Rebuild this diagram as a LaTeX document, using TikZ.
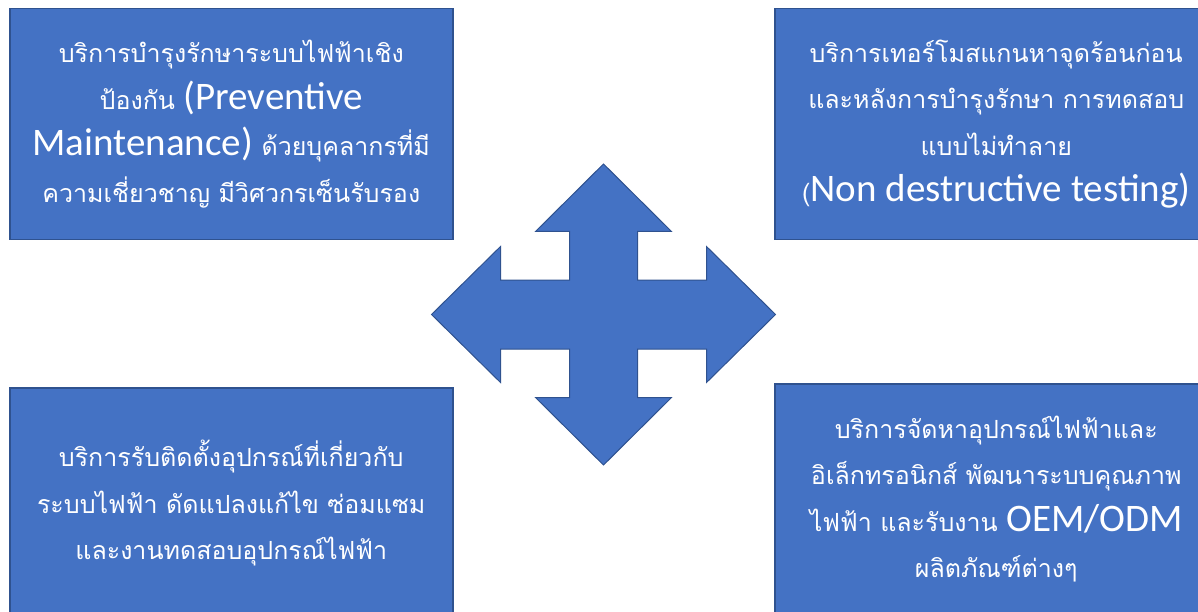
\documentclass[tikz,border=0pt]{standalone}
\usepackage{fontspec}
\setmainfont{Carlito}
\newfontfamily\thaifont[Script=Thai]{Loma}
\newfontfamily\latinfont{Carlito}
\definecolor{boxblue}{HTML}{4472C4}
\definecolor{boxline}{HTML}{2F528F}
\newcommand{\eng}[1]{{\latinfont\fontsize{39}{46.5}\selectfont #1}}

\begin{document}
\begin{tikzpicture}[x=1pt,y=-1pt,
  service/.style={draw=boxline,line width=1.5pt,fill=boxblue,text=white,
    align=center,anchor=north west,minimum width=443pt,minimum height=231pt,
    inner sep=0pt,font=\thaifont\fontsize{25}{46.5}\selectfont},
  crossarrow/.style={draw=boxline,line width=1pt,fill=boxblue}]

  \useasboundingbox (0,0) rectangle (1198,612);
  \clip (0,0) rectangle (1198,612);

  % Services
  \node[service] (Preventive) at (9,8) {บริการบำรุงรักษาระบบไฟฟ้าเชิง\\
    ป้องกัน \eng{(Preventive}\\
    \eng{Maintenance)} ด้วยบุคลากรที่มี\\
    ความเชี่ยวชาญ มีวิศวกรเซ็นรับรอง};
  \node[service] (Thermo) at (774,8) {บริการเทอร์โมสแกนหาจุดร้อนก่อน\\
    และหลังการบำรุงรักษา การทดสอบ\\
    แบบไม่ทำลาย\\
    (\eng{Non destructive testing)}};
  \node[service] (Install) at (9,387) {บริการรับติดตั้งอุปกรณ์ที่เกี่ยวกับ\\
    ระบบไฟฟ้า ดัดแปลงแก้ไข ซ่อมแซม\\
    และงานทดสอบอุปกรณ์ไฟฟ้า};
  \node[service] (Supply) at (774,383) {บริการจัดหาอุปกรณ์ไฟฟ้าและ\\
    อิเล็กทรอนิกส์ พัฒนาระบบคุณภาพ\\
    ไฟฟ้า และรับงาน \eng{OEM/ODM}\\
    ผลิตภัณฑ์ต่างๆ};

  % Four-way arrow
  \draw[crossarrow] (603.5,164) -- (671.5,231.5) -- (637.5,231.5) -- (637.5,280)
    -- (706.5,280) -- (706.5,246.5) -- (775.5,314.5) -- (706.5,382.5)
    -- (706.5,349) -- (637.5,349) -- (637.5,397.5) -- (671.5,397.5)
    -- (603.5,465) -- (535.5,397.5) -- (569.5,397.5) -- (569.5,349)
    -- (500.5,349) -- (500.5,382.5) -- (431.5,314.5) -- (500.5,246.5)
    -- (500.5,280) -- (569.5,280) -- (569.5,231.5) -- (535.5,231.5) -- cycle;

\end{tikzpicture}
\end{document}
